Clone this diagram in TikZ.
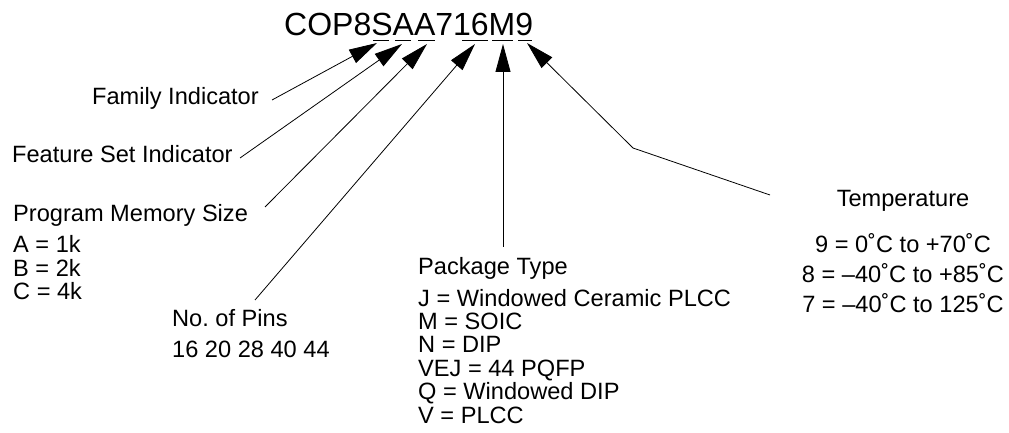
\documentclass[tikz,border=0pt]{standalone}
\usepackage{fontspec}
\setmainfont{Liberation Sans}
\usetikzlibrary{arrows.meta}
\begin{document}
\begin{tikzpicture}[x=1bp,y=-1bp,
  txt/.style={inner sep=0pt,anchor=base west,font=\fontsize{23.6bp}{23.6bp}\selectfont},
  ctxt/.style={inner sep=0pt,anchor=base,font=\fontsize{23.6bp}{23.6bp}\selectfont},
  ttl/.style={inner sep=0pt,anchor=base west,font=\fontsize{32bp}{32bp}\selectfont},
  conn/.style={line width=0.8bp,-{Triangle[length=28bp,width=15bp]}},
  uline/.style={line width=1bp}]
\useasboundingbox (0,0) rectangle (1009,433);
% title
\node[ttl] (title) at (284,36) {COP8SAA716M9};
\draw[uline] (373,41) -- (389,41);
\draw[uline] (395,41) -- (411,41);
\draw[uline] (418,41) -- (435,41);
\draw[uline] (462,41) -- (488,41);
\draw[uline] (492,41) -- (513,41);
\draw[uline] (518,41) -- (532,41);
% arrow tips
\coordinate (tipS) at (377,43);
\coordinate (tipA1) at (402,44);
\coordinate (tipA2) at (427,44);
\coordinate (tip16) at (475,44);
\coordinate (tipM) at (503,44);
\coordinate (tip9) at (527,43);
% labels
\node[txt] (fam) at (92,105) {Family Indicator};
\node[txt] (feat) at (12,163) {Feature Set Indicator};
\node[txt] (pms) at (13,222) {Program Memory Size};
\node[txt] (pmsA) at (13,253) {A = 1k};
\node[txt] (pmsB) at (13,277) {B = 2k};
\node[txt] (pmsC) at (13,300) {C = 4k};
\node[txt] (pins) at (172,327) {No.\ of Pins};
\node[txt] (pinsv) at (172,358) {16 20 28 40 44};
\node[txt] (pkg) at (418,275) {Package Type};
\node[txt] (pkgJ) at (418,307) {J = Windowed Ceramic PLCC};
\node[txt] (pkgM) at (418,330) {M = SOIC};
\node[txt] (pkgN) at (418,353) {N = DIP};
\node[txt] (pkgVEJ) at (418,377) {VEJ = 44 PQFP};
\node[txt] (pkgQ) at (418,400) {Q = Windowed DIP};
\node[txt] (pkgV) at (418,423) {V = PLCC};
\node[ctxt] (temp) at (903,207) {Temperature};
\node[ctxt] (temp9) at (903,253) {9 = 0˚C to +70˚C};
\node[ctxt] (temp8) at (903,283) {8 = –40˚C to +85˚C};
\node[ctxt] (temp7) at (903,313) {7 = –40˚C to 125˚C};
% tails
\coordinate (tFam) at (272,100);
\coordinate (tFeat) at (240,158);
\coordinate (tPms) at (265,207);
\coordinate (tPins) at (255,300);
\coordinate (tPkg) at (503,247);
\coordinate (tTemp) at (770,195);
\coordinate (bTemp) at (633,148);
% connectors
\draw[conn] (tFam) -- (tipS);
\draw[conn] (tFeat) -- (tipA1);
\draw[conn] (tPms) -- (tipA2);
\draw[conn] (tPins) -- (tip16);
\draw[conn] (tPkg) -- (tipM);
\draw[conn] (tTemp) -- (bTemp) -- (tip9);
\end{tikzpicture}
\end{document}
